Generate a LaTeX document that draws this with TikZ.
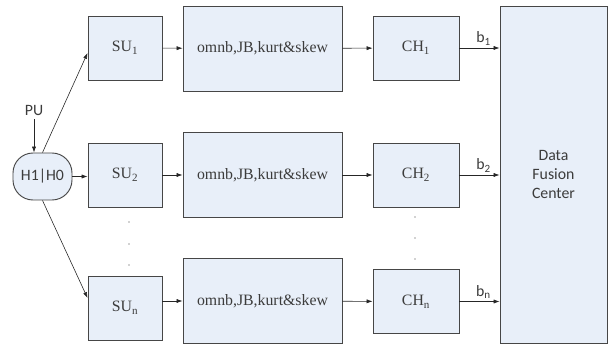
\documentclass[tikz,border=0pt]{standalone}
\usepackage{fontspec}
\setmainfont{Liberation Serif}
\newfontfamily\calfont{Carlito}
\usepackage{xcolor}
\usetikzlibrary{arrows.meta, positioning}
\definecolor{boxFill}{RGB}{232,239,249}
\definecolor{boxLine}{RGB}{70,70,70}
\definecolor{txtGray}{RGB}{60,60,60}

\begin{document}
\begin{tikzpicture}[
    x=0.03cm, y=-0.03cm,
    font=\fontsize{13.5}{16}\selectfont,
    box/.style={draw=boxLine, line width=0.8pt, fill=boxFill, text=txtGray, inner sep=2pt, align=center},
    subox/.style={box, minimum width=2.22cm, minimum height=1.92cm},
    statbox/.style={box, minimum width=4.77cm, minimum height=2.55cm},
    chbox/.style={box, minimum width=2.58cm, minimum height=1.92cm},
    sans/.style={font=\calfont\fontsize{13.5}{16}\selectfont, text=txtGray},
    arrow/.style={-{Latex[length=5pt, width=3.5pt]}, line width=0.5pt, draw=black!85}
  ]
    \useasboundingbox (0,0) rectangle (613,345);

    \node[box, sans, rounded corners=0.6cm, minimum width=1.77cm, minimum height=1.41cm] (hyp) at (42.5,176.5) {H1|H0};
    \node[sans] (pu) at (34,110) {PU};

    \node[subox] (su1) at (125,48) {SU\textsubscript{1}};
    \node[subox] (su2) at (125,175) {SU\textsubscript{2}};
    \node[subox] (sun) at (125,308) {SU\textsubscript{n}};

    \node[statbox] (st1) at (262.5,48.5) {omnb,JB,kurt\&skew};
    \node[statbox] (st2) at (262.5,175) {omnb,JB,kurt\&skew};
    \node[statbox] (stn) at (262.5,301) {omnb,JB,kurt\&skew};

    \node[chbox] (ch1) at (416,48) {CH\textsubscript{1}};
    \node[chbox] (ch2) at (416,175) {CH\textsubscript{2}};
    \node[chbox] (chn) at (416,301.5) {CH\textsubscript{n}};

    \node[box, sans, minimum width=3.21cm, minimum height=10.11cm] (dfc) at (553.5,174.5) {Data\\Fusion\\Center};

    % inputs of the hypothesis block
    \draw[arrow] (pu) -- (pu |- hyp.north);
    \draw[arrow] (hyp.north) -- ([yshift=-0.15cm]su1.west);
    \draw[arrow] (hyp.east) -- (hyp.east -| su2.west);
    \draw[arrow] (hyp.south) -- ([yshift=0.3cm]sun.west);

    % chains
    \draw[arrow] (su1) -- (st1);
    \draw[arrow] (su2) -- (st2);
    \draw[arrow] (sun.east |- stn) -- (stn);
    \draw[arrow] (st1) -- (ch1);
    \draw[arrow] (st2) -- (ch2);
    \draw[arrow] (stn) -- (chn);

    \draw[arrow] (ch1) -- node[sans, above, pos=0.6, inner sep=2pt]{b\textsubscript{1}} (ch1 -| dfc.west);
    \draw[arrow] (ch2) -- node[sans, above, pos=0.6, inner sep=2pt]{b\textsubscript{2}} (ch2 -| dfc.west);
    \draw[arrow] (chn) -- node[sans, above, pos=0.6, inner sep=2pt]{b\textsubscript{n}} (chn -| dfc.west);

    % vertical dots
    \foreach \yy in {222,244,265} \fill[txtGray] (129,\yy) circle (0.6pt);
    \foreach \yy in {217,238,259} \fill[txtGray] (415,\yy) circle (0.6pt);
  \end{tikzpicture}
\end{document}
